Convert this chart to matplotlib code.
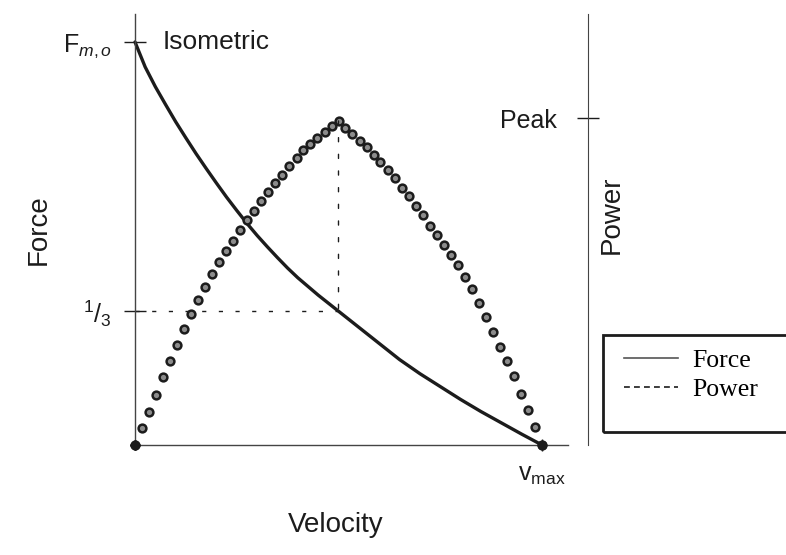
import matplotlib
matplotlib.use("Agg")
import matplotlib.pyplot as plt
from matplotlib.lines import Line2D
from matplotlib.patches import Rectangle, ConnectionPatch

# force-velocity relation (normalised to F_m,o and v_max)
force_velocity = [0, .025, .05, .075, .10, .125, .15, .175, .20, .225, .25, .275, .30,
                  .325, .35, .375, .40, .45, .50, .55, .60, .65, .70, .75, .80, .85,
                  .90, .95, 1.0]
force = [1.0, .938, .889, .845, .802, .762, .723, .686, .650, .615, .582, .550, .520,
         .492, .465, .439, .415, .372, .332, .292, .252, .212, .177, .145, .113, .083,
         .055, .027, 0]

# power samples (fraction of peak-tick level)
power_velocity = [0, .017, .034, .052, .069, .086, .103, .121, .138, .155, .172, .190, .207, .224,
                  .241, .259, .276, .293, .310, .328, .345, .362, .379, .397, .414, .431, .448,
                  .466, .483, .500, .517, .534, .552, .569, .586, .603, .621, .638, .655, .672,
                  .690, .707, .724, .741, .759, .776, .793, .810, .828, .845, .862, .879, .897,
                  .914, .931, .948, .966, .983, 1.0]
power = [0, .052, .102, .153, .208, .257, .306, .355, .401, .443, .483, .523, .560, .593,
         .625, .657, .688, .717, .746, .774, .801, .827, .853, .878, .901, .920, .939, .957,
         .976, .991, .969, .950, .931, .911, .888, .865, .841, .815, .787, .760, .732, .702,
         .670, .641, .612, .581, .549, .514, .476, .433, .391, .346, .300, .257, .211, .157,
         .107, .055, 0]

force_ticks = [1 / 3, 1.0]
force_ticklabels = [r'$^{1}/_{3}$', r'F$_{m,o}$']
power_ticks = [1.0]
power_ticklabels = ['Peak']

plt.rcParams['font.family'] = ['Liberation Sans', 'DejaVu Sans']
plt.rcParams['mathtext.fontset'] = 'custom'
plt.rcParams['mathtext.rm'] = 'Liberation Sans'
plt.rcParams['mathtext.it'] = 'Liberation Sans:italic'

ink = '#1c1c1c'
W, H = 786, 555
fig = plt.figure(figsize=(W / 100, H / 100), dpi=100)

box = [135 / W, 110 / H, 433 / W, 431 / H]
ax = fig.add_axes(box)
ax.set_xlim(0, 433 / 407)
ax.set_ylim(0, 431 / 403)
for s in ['top', 'right']:
    ax.spines[s].set_visible(False)
for s in ['left', 'bottom']:
    ax.spines[s].set_color('#444444')
    ax.spines[s].set_linewidth(1.0)

ax2 = ax.twinx()
ax2.set_ylim(0, 431 / 327)
ax2.set_axis_off()

# force curve
ax.plot(force_velocity, force, color=ink, lw=2.4, solid_capstyle='round',
        solid_joinstyle='round', clip_on=False)

# power dots
ax2.plot(power_velocity, power, ls='none', marker='o', ms=5.6, mfc='#8c8c8c', mec=ink,
         mew=1.8, clip_on=False)
ax2.plot(power_velocity[:1], power[:1], ls='none', marker='D', ms=5, color=ink, clip_on=False)
ax2.plot(power_velocity[-1:], power[-1:], ls='none', marker='o', ms=6, color=ink, clip_on=False)

# guide lines to the power peak
ipk = power.index(max(power))
v_pk = power_velocity[ipk]
ax.plot([0, v_pk], [1 / 3, 1 / 3], color=ink, lw=1, dashes=(3, 9))
con = ConnectionPatch(xyA=(v_pk, power[ipk]), coordsA=ax2.transData,
                      xyB=(v_pk, 1 / 3), coordsB=ax.transData,
                      color=ink, lw=1, linestyle=(0, (3, 9)))
fig.add_artist(con)

ax.set_yticks(force_ticks, force_ticklabels)
ax.set_xticks([1.0], [r'v$_{\rm max}$'])
ax.tick_params(axis='y', direction='inout', length=16.5, width=1, pad=8.5,
               labelsize=18, colors=ink)
ax.tick_params(axis='x', direction='inout', length=8, width=1, pad=9,
               labelsize=18, colors=ink)

ax.annotate('Isometric', xy=(0, 1.0), xytext=(20, 0), textcoords='offset points',
            ha='left', va='center', fontsize=19, color=ink)

ax.set_ylabel('Force', fontsize=20, color=ink)
ax.yaxis.set_label_coords(-0.192, 0.5)
ax.set_xlabel('Velocity', fontsize=20, color=ink)
ax.xaxis.set_label_coords(0.464, -0.155)

# separate power axis
axp = fig.add_axes([588 / W, 110 / H, 0.02, 431 / H])
axp.set_ylim(0, 431 / 327)
axp.patch.set_visible(False)
for s in ['top', 'right', 'bottom']:
    axp.spines[s].set_visible(False)
axp.spines['left'].set_color('#444444')
axp.set_xticks([])
axp.set_yticks(power_ticks, power_ticklabels)
axp.tick_params(axis='y', direction='inout', length=16.5, width=1, pad=14,
                labelsize=18, colors=ink)

fig.text(612 / W, 1 - 215 / H, 'Power', rotation=90, fontsize=20, color=ink,
         ha='center', va='center')

# legend
handles = [Line2D([], [], color='#555555', lw=1.2),
           Line2D([], [], color=ink, lw=1.2, dashes=(3.5, 2.5))]
fig.legend(handles, ['Force', 'Power'], loc='upper left',
           bbox_to_anchor=(624 / W, 1 - 349 / H), frameon=False,
           prop={'family': 'Liberation Serif', 'size': 18.5},
           handlelength=2.1, handletextpad=0.55, labelspacing=0.22,
           borderpad=0, borderaxespad=0)
fig.add_artist(Rectangle((603 / W, 1 - 432 / H), 0.3, 97 / H, transform=fig.transFigure,
                         fill=False, lw=2, ec=ink, clip_on=False))

fig.savefig('out.png', dpi=100)
